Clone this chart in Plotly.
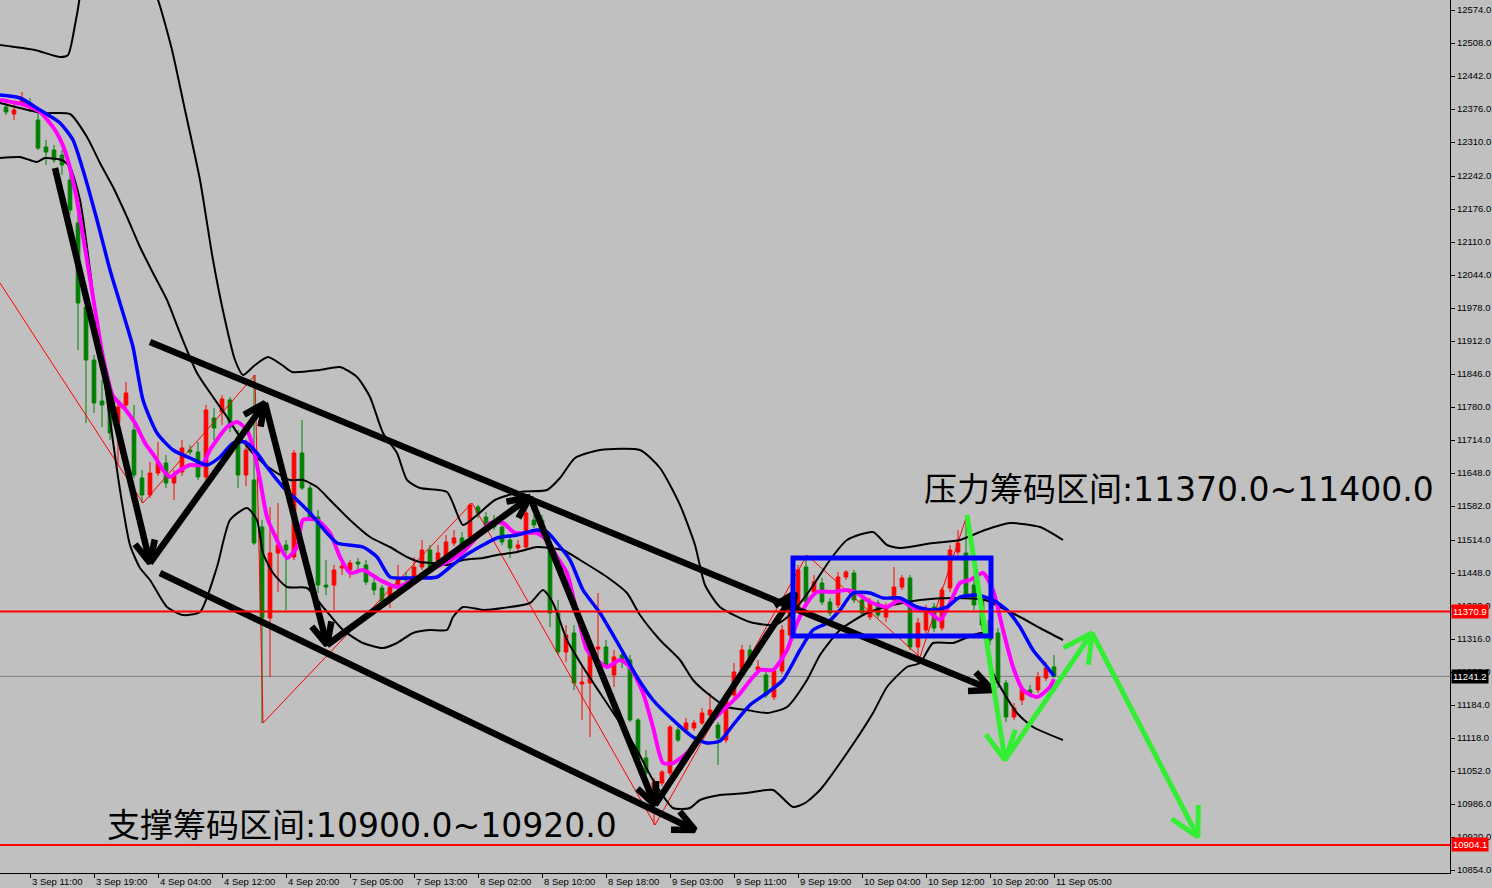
import math
import plotly.graph_objects as go

# ---------------- data ----------------
bars = list(range(132))
opens = [12380,12366,12386,12388,12354,12300,12294,12284,12234,12148,
11980,11874,11792,11784,11748,11784,11734,11638,11604,11648,
11668,11628,11650,11694,11690,11640,11758,11770,11794,11720,
11644,11634,11540,11358,11488,11504,11480,11688,11618,11560,
11424,11424,11458,11454,11470,11464,11428,11418,11394,11420,
11440,11440,11460,11494,11468,11468,11508,11518,11520,11580,
11560,11550,11540,11514,11498,11500,11554,11554,11504,11368,
11290,11328,11226,11228,11296,11300,11244,11284,11274,11154,
11078,11010,11028,11048,11134,11134,11138,11148,11164,11144,
11114,11204,11248,11294,11254,11244,11200,11252,11324,11380,
11460,11410,11428,11390,11384,11440,11448,11394,11360,11388,
11360,11394,11420,11438,11300,11334,11380,11338,11418,11490,
11488,11424,11394,11354,11328,11228,11160,11194,11214,11214,
11238,11260]
highs = [12394,12386,12410,12398,12370,12314,12304,12294,12250,12164,
11994,11884,11834,11794,11794,11830,11784,11654,11670,11710,
11684,11654,11714,11704,11710,11784,11778,11804,11800,11734,
11714,11844,11554,11580,11588,11514,11694,11754,11624,11574,
11474,11464,11474,11474,11478,11474,11440,11424,11424,11464,
11450,11480,11514,11504,11504,11524,11534,11530,11588,11584,
11570,11564,11554,11524,11514,11574,11564,11564,11514,11394,
11344,11344,11260,11304,11408,11314,11294,11294,11284,11158,
11094,11038,11054,11144,11144,11158,11154,11178,11208,11150,
11208,11268,11304,11304,11274,11254,11258,11344,11394,11464,
11484,11444,11438,11398,11450,11454,11454,11400,11398,11394,
11388,11460,11444,11444,11358,11384,11388,11420,11504,11534,
11564,11434,11404,11364,11338,11234,11188,11224,11224,11250,
11270,11284]
lows = [12364,12354,12382,12370,12294,12264,12268,12244,12164,11894,
11748,11768,11740,11714,11662,11774,11638,11588,11598,11642,
11618,11594,11642,11684,11634,11634,11714,11744,11730,11618,
11622,11504,11148,11240,11410,11374,11474,11614,11554,11408,
11404,11374,11444,11438,11454,11424,11404,11378,11378,11414,
11428,11434,11454,11450,11462,11462,11502,11494,11514,11558,
11534,11534,11504,11478,11490,11494,11538,11520,11340,11284,
11270,11214,11154,11120,11274,11258,11220,11258,11150,11070,
11044,10944,11022,11042,11110,11126,11132,11144,11160,11064,
11108,11198,11244,11258,11248,11198,11194,11246,11314,11374,
11384,11404,11384,11362,11378,11434,11388,11362,11354,11358,
11350,11388,11414,11294,11280,11328,11330,11332,11410,11484,
11398,11374,11334,11304,11218,11150,11154,11184,11200,11208,
11232,11238]
closes = [12370,12374,12394,12380,12298,12290,12274,12264,12174,11988,
11874,11788,11784,11728,11780,11808,11644,11604,11648,11668,
11628,11644,11698,11690,11640,11774,11738,11796,11740,11644,
11694,11508,11358,11488,11504,11494,11688,11618,11560,11424,
11420,11454,11462,11468,11466,11430,11414,11388,11420,11434,
11434,11460,11494,11460,11488,11510,11518,11504,11584,11568,
11544,11540,11510,11498,11504,11568,11544,11528,11368,11290,
11324,11228,11230,11298,11300,11264,11280,11274,11154,11074,
11048,11030,11050,11140,11114,11148,11148,11168,11174,11118,
11204,11250,11294,11264,11260,11204,11252,11334,11380,11454,
11390,11430,11390,11368,11440,11450,11394,11368,11390,11364,
11380,11420,11438,11300,11348,11374,11338,11414,11494,11508,
11404,11384,11344,11314,11228,11160,11178,11214,11208,11240,
11258,11241]

# fast MA (magenta), traced
ma_fast_x = [-0.75,2.375,4.25,6.125,7.375,8.625,9.875,10.875,12.125,13.375,14.875,16.125,17.375,18.625,19.625,20.5,
21.75,23.0,24.5,25.5,27.625,28.875,30.125,30.875,31.75,32.625,33.875,35.125,36.375,37.125,38.875,40.5,41.75,43.0,
44.625,46.75,48.875,50.875,53.0,55.125,57.125,58.875,60.5,62.125,63.625,66.375,67.625,68.875,70.125,71.375,72.625,
73.875,75.125,76.75,78.0,79.625,80.875,82.125,83.375,85.125,86.75,88.375,91.375,94.25,95.875,97.625,98.875,100.125,
101.375,103.375,105.125,106.375,108.0,110.125,111.75,113.375,115.125,116.75,118.0,119.25,120.5,122.125,123.375,
124.625,125.875,127.125,128.875,130.5,131.0]
ma_fast_y = [12394,12384,12370,12334,12292,12214,12098,12000,11880,11802,11776,11748,11708,11680,11654,11640,
11654,11664,11664,11694,11740,11750,11734,11700,11634,11560,11514,11478,11500,11554,11554,11528,11480,11448,
11454,11434,11420,11434,11454,11470,11490,11520,11548,11548,11528,11528,11514,11480,11448,11368,11294,
11274,11260,11274,11260,11208,11140,11068,11068,11088,11120,11154,11200,11254,11254,11294,11348,11388,
11410,11410,11414,11408,11390,11380,11394,11378,11374,11354,11388,11428,11434,11448,11414,
11334,11260,11214,11200,11220,11236]

# slow MA (blue), traced
ma_slow_x = [-0.75,1.75,4.25,6.75,8.375,9.625,11.375,13.0,14.625,15.875,17.125,18.875,20.875,23.0,25.125,26.75,
28.375,29.875,31.375,32.625,34.625,36.375,38.0,40.125,41.375,44.625,46.375,48.0,50.5,53.875,55.5,57.125,59.625,
61.375,63.875,66.375,67.625,68.875,70.5,72.125,74.25,76.75,78.875,80.875,83.375,85.875,87.625,89.25,90.875,93.0,
95.125,97.125,99.25,100.875,102.625,104.25,105.875,108.0,109.625,111.75,113.875,115.875,117.625,119.25,121.375,
123.375,125.125,126.75,128.375,130.125,131.0]
ma_slow_y = [12404,12398,12374,12348,12314,12254,12154,12054,11968,11900,11794,11728,11694,11678,11664,11680,
11708,11710,11688,11660,11620,11594,11568,11528,11508,11500,11480,11440,11438,11440,11460,11480,11504,
11518,11524,11534,11530,11508,11474,11414,11368,11300,11240,11194,11154,11120,11108,11112,11144,11184,
11208,11234,11294,11334,11348,11374,11408,11408,11398,11398,11380,11374,11380,11400,11404,
11394,11374,11340,11294,11260,11242]

# band lines (black), traced
band_up_x = [-0.75,3.625,6.75,7.75,8.625,9.25,11.75,15.5,18.375,19.0,20.75,22.375,24.25,25.875,27.375,28.625,29.625,
31.125,32.75,34.5,35.75,39.25,41.75,43.875,45.5,47.125,48.875,50.125,51.75,55.125,57.125,58.875,61.125,64.25,
67.625,69.25,71.125,74.25,79.25,81.75,84.25,86.125,87.375,89.25,93.0,96.125,98.0,100.5,103.0,105.125,108.375,
110.125,111.75,115.875,119.25,122.375,125.5,129.25,132.125]
band_up_y = [12504,12494,12480,12484,12544,12604,13094,13094,12614,12594,12494,12374,12234,12074,11954,11874,11844,
11864,11880,11864,11850,11854,11860,11840,11800,11728,11688,11634,11618,11610,11544,11564,11594,11610,
11614,11638,11678,11694,11694,11658,11584,11504,11424,11380,11350,11344,11364,11414,11474,11514,11530,
11504,11498,11508,11514,11534,11548,11540,11514]
band_mid_x = [-0.75,4.5,8.0,10.125,11.75,13.375,15.125,16.75,18.375,20.125,21.75,23.875,25.875,27.625,29.25,30.5,
32.125,33.875,35.5,37.125,38.875,40.5,43.0,45.5,48.0,50.125,51.75,53.375,55.125,57.125,59.625,61.375,63.875,
66.375,68.0,69.625,71.75,75.125,77.625,79.25,81.75,84.25,85.875,87.625,90.125,92.625,95.125,97.625,100.125,
101.75,104.25,107.625,110.875,114.25,118.375,122.375,124.25,126.75,129.25,132.125]
band_mid_y = [12388,12368,12366,12320,12268,12220,12160,12100,12048,11994,11928,11848,11800,11760,11720,11694,
11668,11648,11634,11634,11620,11594,11554,11520,11500,11480,11470,11468,11464,11474,11478,11484,11490,
11500,11498,11494,11474,11440,11408,11364,11314,11274,11234,11208,11180,11174,11168,11180,11234,
11284,11334,11368,11384,11394,11398,11394,11380,11360,11338,11314]
band_low_x = [-0.75,1.75,3.875,4.875,7.0,8.0,9.25,10.5,11.75,13.0,14.25,15.5,16.75,18.0,20.125,22.125,24.25,26.375,
28.0,30.125,31.375,32.125,33.375,35.125,37.625,39.625,42.125,44.625,47.125,48.875,50.875,53.0,55.125,55.875,
57.125,59.625,62.125,65.5,67.125,68.375,70.125,72.125,74.25,76.75,78.875,80.875,83.375,85.5,86.75,89.25,92.625,
95.875,98.375,99.875,101.75,105.125,108.375,110.125,112.625,114.25,115.875,118.375,122.125,123.375,126.375,
128.375,132.125]
band_low_y = [12278,12280,12270,12278,12274,12260,12194,12054,11894,11754,11614,11504,11458,11434,11380,11364,
11370,11460,11554,11578,11554,11488,11448,11420,11418,11380,11334,11308,11298,11308,11328,11334,11334,11360,
11380,11374,11378,11388,11414,11388,11314,11260,11208,11148,11094,11034,10978,10978,10994,11004,11008,
11014,10980,10988,11014,11088,11168,11220,11260,11268,11308,11308,11328,11248,11168,
11140,11114]

# zigzag (thin red)
zigzag_x = [-0.75,17.125,31.125,32.125,58.25,81.125,100.125,114.25,120.125]
zigzag_y = [12028,11588,11844,11148,11588,10944,11484,11280,11564]

# hand-drawn black arrows: start -> tip
black_arrow_x0 = [6.125,18.0,32.375,40.125,65.5,81.125,18.0,19.25]
black_arrow_y0 = [12258,11468,11788,11304,11600,10984,11910,11448]
black_arrow_x1 = [18.0,32.375,40.125,65.5,81.125,98.625,123.25,86.125]
black_arrow_y1 = [11468,11788,11304,11600,10984,11408,11214,10934]
# green arrows
green_arrow_x0 = [120.125,124.875,135.75]
green_arrow_y0 = [11564,11074,11328]
green_arrow_x1 = [124.875,135.75,149.0]
green_arrow_y1 = [11074,11328,10920]

# consolidation box
box_x = [98.375, 123.125]
box_y = [11322, 11478]

# levels
resistance_level = 11370.9
support_level = 10904.1
last_price = 11241.2

# texts
resist_text = "压力筹码区间:11370.0~11400.0"
resist_pos = (114.5, 11616)
support_text = "支撑筹码区间:10900.0~10920.0"
support_pos = (12.375, 10944)

# axis ticks
x_tick_bars = [3, 11, 19, 27, 35, 43, 51, 59, 67, 75, 83, 91, 99, 107, 115, 123, 131]
x_tick_labels = ["3 Sep 11:00", "3 Sep 19:00", "4 Sep 04:00", "4 Sep 12:00", "4 Sep 20:00",
                 "7 Sep 05:00", "7 Sep 13:00", "8 Sep 02:00", "8 Sep 10:00", "8 Sep 18:00",
                 "9 Sep 03:00", "9 Sep 11:00", "9 Sep 19:00", "10 Sep 04:00", "10 Sep 12:00",
                 "10 Sep 20:00", "11 Sep 05:00"]
y_tick_vals = [12574, 12508, 12442, 12376, 12310, 12242, 12176, 12110, 12044, 11978, 11912, 11846,
               11780, 11714, 11648, 11582, 11514, 11448, 11382, 11316, 11250, 11184, 11118, 11052,
               10986, 10920, 10854]
y_tick_text = [f"{v}.0" for v in y_tick_vals]

# ---------------- layout constants ----------------
W, H = 1492, 888
M_L, M_R, M_T, M_B = 0, 42, 0, 15
X_RANGE = [-0.75, 180.5]
Y_RANGE = [10848, 12594]
BG = "#c0c0c0"
sx = (W - M_L - M_R) / (X_RANGE[1] - X_RANGE[0])
sy = (H - M_T - M_B) / (Y_RANGE[1] - Y_RANGE[0])


def arrow_paths(x0s, y0s, x1s, y1s, L, ang_deg):
    xs, ys = [], []
    a = math.radians(ang_deg)
    for x0, y0, x1, y1 in zip(x0s, y0s, x1s, y1s):
        dx = (x1 - x0) * sx
        dy = (y1 - y0) * sy
        n = math.hypot(dx, dy)
        vx, vy = -dx / n, -dy / n
        ends = []
        for s in (1, -1):
            ca, sa = math.cos(s * a), math.sin(s * a)
            bx = vx * ca - vy * sa
            by = vx * sa + vy * ca
            ends.append((x1 + bx * L / sx, y1 + by * L / sy))
        xs += [x0, x1, None, ends[0][0], x1, ends[1][0], None]
        ys += [y0, y1, None, ends[0][1], y1, ends[1][1], None]
    return xs, ys


fig = go.Figure()

fig.add_trace(go.Candlestick(
    x=bars, open=opens, high=highs, low=lows, close=closes,
    increasing=dict(line=dict(color="#ff0000", width=1), fillcolor="#ff0000"),
    decreasing=dict(line=dict(color="#008000", width=1), fillcolor="#008000"),
    whiskerwidth=0, showlegend=False, hoverinfo="skip"))

fig.add_trace(go.Scatter(x=zigzag_x, y=zigzag_y, mode="lines",
                         line=dict(color="#ff0000", width=1), showlegend=False, hoverinfo="skip"))

for bx, by in [(band_up_x, band_up_y), (band_mid_x, band_mid_y), (band_low_x, band_low_y)]:
    fig.add_trace(go.Scatter(x=bx, y=by, mode="lines",
                             line=dict(color="black", width=2, shape="spline", smoothing=0.6),
                             showlegend=False, hoverinfo="skip"))

fig.add_trace(go.Scatter(x=ma_fast_x, y=ma_fast_y, mode="lines",
                         line=dict(color="#ff00ff", width=4, shape="spline", smoothing=0.6),
                         showlegend=False, hoverinfo="skip"))
fig.add_trace(go.Scatter(x=ma_slow_x, y=ma_slow_y, mode="lines",
                         line=dict(color="#0000ff", width=3.5, shape="spline", smoothing=0.6),
                         showlegend=False, hoverinfo="skip"))

ax_, ay_ = arrow_paths(black_arrow_x0, black_arrow_y0, black_arrow_x1, black_arrow_y1, 24, 25)
fig.add_trace(go.Scatter(x=ax_, y=ay_, mode="lines", line=dict(color="black", width=6.5),
                         showlegend=False, hoverinfo="skip"))
gx_, gy_ = arrow_paths(green_arrow_x0, green_arrow_y0, green_arrow_x1, green_arrow_y1, 32, 28)
fig.add_trace(go.Scatter(x=gx_, y=gy_, mode="lines", line=dict(color="#33ee33", width=5),
                         showlegend=False, hoverinfo="skip"))

shapes = [
    dict(type="line", xref="paper", x0=0, x1=1, yref="y", y0=last_price, y1=last_price,
         line=dict(color="#808080", width=1), layer="below"),
    dict(type="line", xref="paper", x0=0, x1=1, yref="y", y0=resistance_level, y1=resistance_level,
         line=dict(color="#ff0000", width=2), layer="above"),
    dict(type="line", xref="paper", x0=0, x1=1, yref="y", y0=support_level, y1=support_level,
         line=dict(color="#ff0000", width=2), layer="above"),
    dict(type="rect", xref="x", yref="y", x0=box_x[0], x1=box_x[1], y0=box_y[0], y1=box_y[1],
         line=dict(color="#0000ff", width=5), layer="above"),
]

big_font = dict(family="DejaVu Sans, Noto Sans CJK SC", size=33, color="black")
annotations = [
    dict(x=resist_pos[0], y=resist_pos[1], xref="x", yref="y", text=resist_text, showarrow=False,
         xanchor="left", yanchor="middle", font=big_font),
    dict(x=support_pos[0], y=support_pos[1], xref="x", yref="y", text=support_text, showarrow=False,
         xanchor="left", yanchor="middle", font=big_font),
]
for v, col in [(resistance_level, "#ff0000"), (last_price, "#000000"), (support_level, "#ff0000")]:
    annotations.append(dict(x=1, xref="paper", xshift=1, y=v, yref="y", text=f"{v:.1f}", showarrow=False,
                            xanchor="left", yanchor="middle", bgcolor=col, borderpad=1,
                            font=dict(family="Liberation Sans", size=9.5, color="white")))
for b, lab in zip(x_tick_bars, x_tick_labels):
    annotations.append(dict(x=b, xref="x", y=0, yref="paper", yshift=-1, text=lab, showarrow=False,
                            xanchor="left", yanchor="top",
                            font=dict(family="Liberation Sans", size=9.5, color="black")))

fig.update_layout(
    width=W, height=H, margin=dict(l=M_L, r=M_R, t=M_T, b=M_B),
    paper_bgcolor=BG, plot_bgcolor=BG, showlegend=False, boxgap=0.35,
    shapes=shapes, annotations=annotations,
    xaxis=dict(range=X_RANGE, showgrid=False, zeroline=False, showline=True, linecolor="black", linewidth=1,
               ticks="outside", ticklen=4, tickcolor="black", tickvals=x_tick_bars, showticklabels=False,
               rangeslider=dict(visible=False)),
    yaxis=dict(range=Y_RANGE, side="right", showgrid=False, zeroline=False, showline=True, linecolor="black",
               linewidth=1, ticks="outside", ticklen=4, tickcolor="black", tickvals=y_tick_vals,
               ticktext=y_tick_text, tickfont=dict(family="Liberation Sans", size=9.5, color="black")),
)

fig.write_html("out.html", config={"displayModeBar": False},
               post_script="document.body.style.margin='0px';document.body.style.overflow='hidden';"
                           "document.body.style.background='#c0c0c0';")
